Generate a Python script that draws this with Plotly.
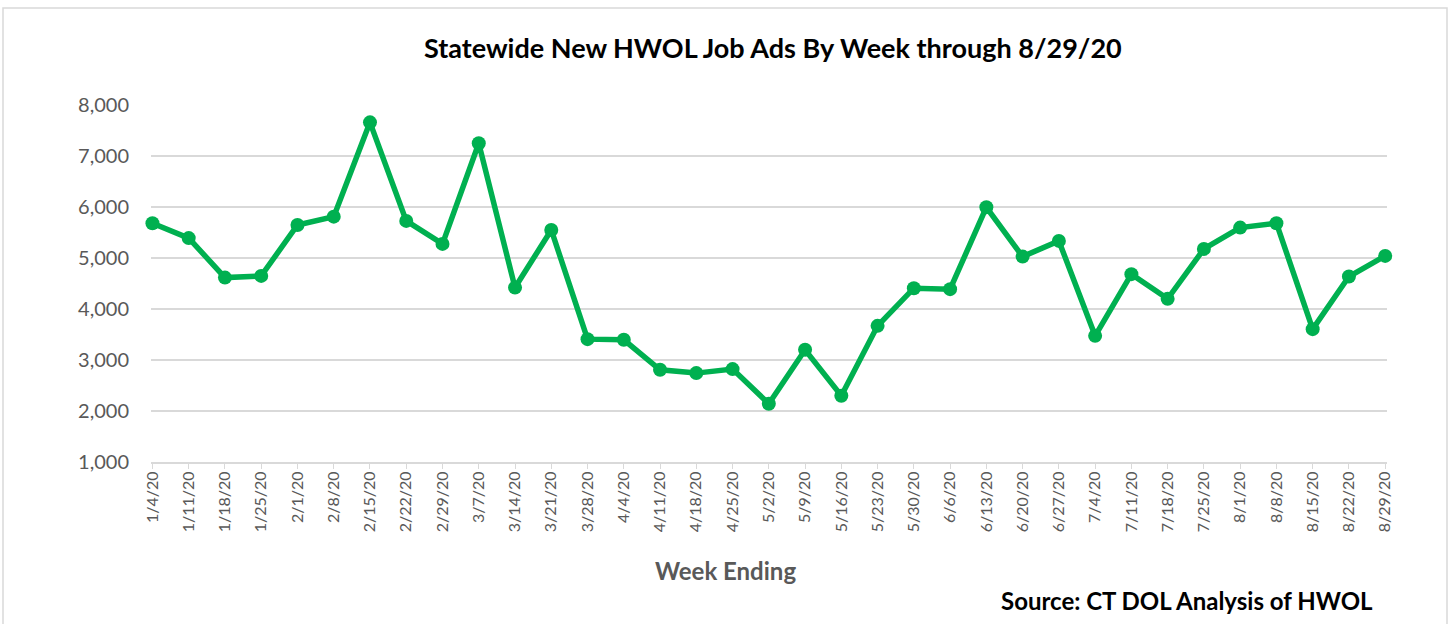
import plotly.graph_objects as go

weeks = ["1/4/20", "1/11/20", "1/18/20", "1/25/20", "2/1/20", "2/8/20", "2/15/20",
         "2/22/20", "2/29/20", "3/7/20", "3/14/20", "3/21/20", "3/28/20", "4/4/20",
         "4/11/20", "4/18/20", "4/25/20", "5/2/20", "5/9/20", "5/16/20", "5/23/20",
         "5/30/20", "6/6/20", "6/13/20", "6/20/20", "6/27/20", "7/4/20", "7/11/20",
         "7/18/20", "7/25/20", "8/1/20", "8/8/20", "8/15/20", "8/22/20", "8/29/20"]
job_ads = [5680, 5390, 4616, 4649, 5648, 5811, 7660,
           5727, 5276, 7249, 4420, 5550, 3409, 3396,
           2808, 2743, 2822, 2142, 3200, 2299, 3670,
           4408, 4389, 5995, 5027, 5335, 3474, 4683,
           4199, 5178, 5596, 5682, 3605, 4636, 5041]
y_ticks = [1000, 2000, 3000, 4000, 5000, 6000, 7000, 8000]

title_text = "Statewide New HWOL Job Ads By Week through 8/29/20"
x_title = "Week Ending"
source_text = "Source: CT DOL Analysis of HWOL"

W, H = 1452, 624
L, R, T, B = 151, 65, 105, 162
pw = W - L - R
ph = H - T - B

def px_x(x):
    return (x - L) / pw

def px_y(y):
    return (H - B - y) / ph

FONT = "Lato"
GRAY = "#595959"
GREEN = "#00B050"

fig = go.Figure()
fig.add_trace(go.Scatter(
    x=list(range(len(weeks))), y=job_ads, mode="lines+markers",
    line=dict(color=GREEN, width=5.5),
    marker=dict(color=GREEN, size=14),
    cliponaxis=False, showlegend=False,
))

fig.update_layout(
    width=W, height=H,
    margin=dict(l=L, r=R, t=T, b=B),
    paper_bgcolor="white", plot_bgcolor="white",
    font=dict(family=FONT, color=GRAY),
    xaxis=dict(
        tickmode="array", tickvals=list(range(len(weeks))), ticktext=weeks,
        range=[-0.04, 34.05], tickangle=-90,
        tickfont=dict(size=16, color=GRAY, family=FONT),
        showgrid=False, showline=True, linecolor="#d9d9d9", linewidth=2,
        ticks="outside", ticklen=5, tickcolor="#d9d9d9", zeroline=False,
        ticklabelstandoff=-4,
    ),
    yaxis=dict(
        range=[1000, 8000], tickvals=y_ticks, tickformat=",d",
        tickfont=dict(size=20, color=GRAY, family=FONT),
        showgrid=True, gridcolor="#d9d9d9", gridwidth=2,
        showline=False, zeroline=False, ticklabelstandoff=21,
    ),
    shapes=[dict(type="rect", xref="paper", yref="paper",
                 x0=px_x(3), x1=px_x(1447), y0=px_y(640), y1=px_y(8),
                 line=dict(color="#d9d9d9", width=1.5), fillcolor="rgba(0,0,0,0)",
                 layer="below")],
    annotations=[
        dict(text="<b>" + title_text + "</b>", xref="paper", yref="paper",
             x=px_x(773), y=px_y(48), xanchor="center", yanchor="middle",
             showarrow=False, font=dict(size=27, color="black", family=FONT)),
        dict(text="<b>" + x_title + "</b>", xref="paper", yref="paper",
             x=px_x(725), y=px_y(570), xanchor="center", yanchor="middle",
             showarrow=False, font=dict(size=24, color=GRAY, family=FONT)),
        dict(text="<b>" + source_text + "</b>", xref="paper", yref="paper",
             x=px_x(1375), y=px_y(600), xanchor="right", yanchor="middle",
             showarrow=False, font=dict(size=24, color="black", family=FONT)),
    ],
)

fig.write_html("out.html", config={"displayModeBar": False},
               post_script="document.body.style.margin='0px';")
